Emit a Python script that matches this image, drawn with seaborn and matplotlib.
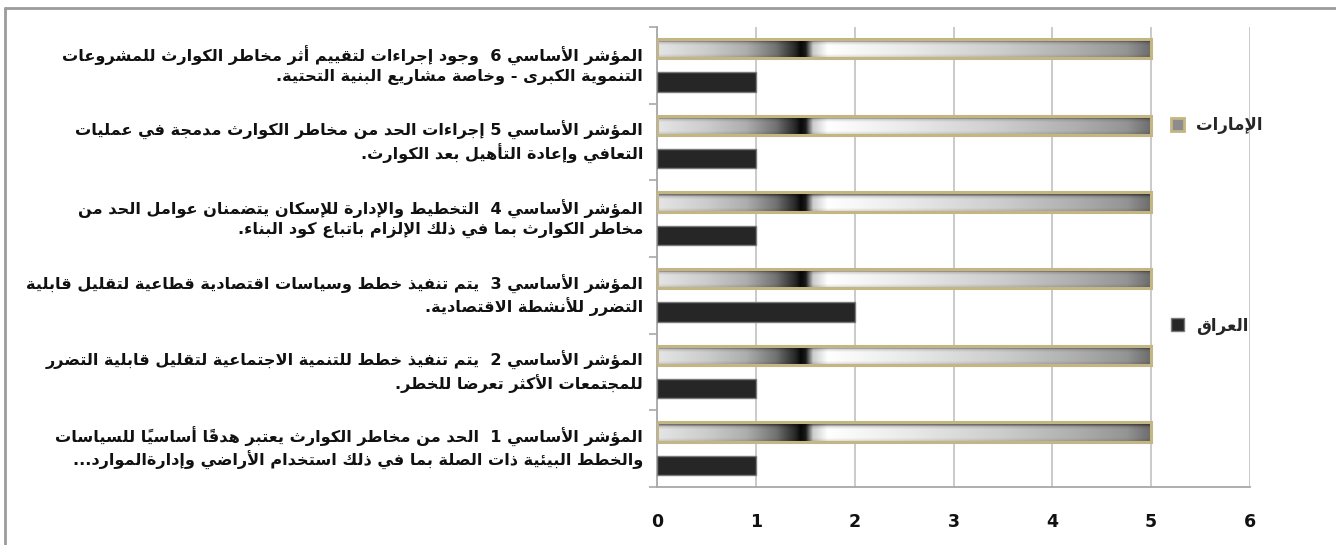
import numpy as np
import pandas as pd
import matplotlib
matplotlib.use("Agg")
import matplotlib.pyplot as plt
from matplotlib.lines import Line2D
from matplotlib.patches import Patch
import seaborn as sns

# ---------------------------------------------------------------- data
# indicator captions, top of the chart to bottom (two lines each)
caption_line1 = [
    "المؤشر الأساسي 6  وجود إجراءات لتقييم أثر مخاطر الكوارث للمشروعات",
    "المؤشر الأساسي 5 إجراءات الحد من مخاطر الكوارث مدمجة في عمليات",
    "المؤشر الأساسي 4  التخطيط والإدارة للإسكان يتضمنان عوامل الحد من",
    "المؤشر الأساسي 3  يتم تنفيذ خطط وسياسات اقتصادية قطاعية لتقليل قابلية",
    "المؤشر الأساسي 2  يتم تنفيذ خطط للتنمية الاجتماعية لتقليل قابلية التضرر",
    "المؤشر الأساسي 1  الحد من مخاطر الكوارث يعتبر هدفاً أساسياً للسياسات",
]
caption_line2 = [
    "التنموية الكبرى - وخاصة مشاريع البنية التحتية.",
    "التعافي وإعادة التأهيل بعد الكوارث.",
    "مخاطر الكوارث بما في ذلك الإلزام باتباع كود البناء.",
    "التضرر للأنشطة الاقتصادية.",
    "للمجتمعات الأكثر تعرضا للخطر.",
    "والخطط البيئية ذات الصلة بما في ذلك استخدام الأراضي وإدارةالموارد...",
]
countries = ["الإمارات", "العراق"]
uae_scores = [5, 5, 5, 5, 5, 5]
iraq_scores = [1, 1, 1, 2, 1, 1]
x_ticks = [0, 1, 2, 3, 4, 5, 6]

# ------------------------------------------------ Arabic glyph shaping
# matplotlib lays text out left to right without contextual shaping, so the
# letters are mapped to their presentation forms and placed in visual order.
FORMS = {
    "\u0621": ("\ufe80", None, None, None),
    "\u0622": ("\ufe81", "\ufe82", None, None),
    "\u0623": ("\ufe83", "\ufe84", None, None),
    "\u0624": ("\ufe85", "\ufe86", None, None),
    "\u0625": ("\ufe87", "\ufe88", None, None),
    "\u0626": ("\ufe89", "\ufe8a", "\ufe8b", "\ufe8c"),
    "\u0627": ("\ufe8d", "\ufe8e", None, None),
    "\u0628": ("\ufe8f", "\ufe90", "\ufe91", "\ufe92"),
    "\u0629": ("\ufe93", "\ufe94", None, None),
    "\u062a": ("\ufe95", "\ufe96", "\ufe97", "\ufe98"),
    "\u062b": ("\ufe99", "\ufe9a", "\ufe9b", "\ufe9c"),
    "\u062c": ("\ufe9d", "\ufe9e", "\ufe9f", "\ufea0"),
    "\u062d": ("\ufea1", "\ufea2", "\ufea3", "\ufea4"),
    "\u062e": ("\ufea5", "\ufea6", "\ufea7", "\ufea8"),
    "\u062f": ("\ufea9", "\ufeaa", None, None),
    "\u0630": ("\ufeab", "\ufeac", None, None),
    "\u0631": ("\ufead", "\ufeae", None, None),
    "\u0632": ("\ufeaf", "\ufeb0", None, None),
    "\u0633": ("\ufeb1", "\ufeb2", "\ufeb3", "\ufeb4"),
    "\u0634": ("\ufeb5", "\ufeb6", "\ufeb7", "\ufeb8"),
    "\u0635": ("\ufeb9", "\ufeba", "\ufebb", "\ufebc"),
    "\u0636": ("\ufebd", "\ufebe", "\ufebf", "\ufec0"),
    "\u0637": ("\ufec1", "\ufec2", "\ufec3", "\ufec4"),
    "\u0638": ("\ufec5", "\ufec6", "\ufec7", "\ufec8"),
    "\u0639": ("\ufec9", "\ufeca", "\ufecb", "\ufecc"),
    "\u063a": ("\ufecd", "\ufece", "\ufecf", "\ufed0"),
    "\u0641": ("\ufed1", "\ufed2", "\ufed3", "\ufed4"),
    "\u0642": ("\ufed5", "\ufed6", "\ufed7", "\ufed8"),
    "\u0643": ("\ufed9", "\ufeda", "\ufedb", "\ufedc"),
    "\u0644": ("\ufedd", "\ufede", "\ufedf", "\ufee0"),
    "\u0645": ("\ufee1", "\ufee2", "\ufee3", "\ufee4"),
    "\u0646": ("\ufee5", "\ufee6", "\ufee7", "\ufee8"),
    "\u0647": ("\ufee9", "\ufeea", "\ufeeb", "\ufeec"),
    "\u0648": ("\ufeed", "\ufeee", None, None),
    "\u0649": ("\ufeef", "\ufef0", None, None),
    "\u064a": ("\ufef1", "\ufef2", "\ufef3", "\ufef4"),
}
LAM_ALEF = {
    "\u0622": ("\ufef5", "\ufef6"),
    "\u0623": ("\ufef7", "\ufef8"),
    "\u0625": ("\ufef9", "\ufefa"),
    "\u0627": ("\ufefb", "\ufefc"),
}


def is_mark(c):
    return "\u064b" <= c <= "\u0652" or c == "\u0670"


def joins_next(c):
    return c == "\u0640" or (c in FORMS and FORMS[c][2] is not None)


def joins_prev(c):
    return c == "\u0640" or (c in FORMS and FORMS[c][1] is not None)


def arabic(text):
    chars = list(text)
    n = len(chars)

    def skip(j, step):
        while 0 <= j < n and is_mark(chars[j]):
            j += step
        return j

    clusters = []
    i = 0
    while i < n:
        c = chars[i]
        if is_mark(c) and clusters:
            clusters[-1] += c
            i += 1
            continue
        if c.isdigit():
            if clusters and clusters[-1][-1].isdigit():
                clusters[-1] += c
            else:
                clusters.append(c)
            i += 1
            continue
        if c in FORMS:
            p = skip(i - 1, -1)
            prev = chars[p] if p >= 0 else None
            link_prev = prev is not None and joins_next(prev) and joins_prev(c)
            q = skip(i + 1, 1)
            nxt = chars[q] if q < n else None
            if c == "\u0644" and nxt in LAM_ALEF:
                clusters.append(LAM_ALEF[nxt][1 if link_prev else 0])
                i = q + 1
                continue
            link_next = joins_next(c) and nxt is not None and joins_prev(nxt)
            idx = 3 if (link_prev and link_next) else 1 if link_prev else 2 if link_next else 0
            clusters.append(FORMS[c][idx])
        else:
            clusters.append(c)
        i += 1
    return "".join(reversed(clusters))


# ---------------------------------------------------------------- frame
sns.set_theme(style="white")
plt.rcParams["font.family"] = ["DejaVu Sans"]
plt.rcParams["font.weight"] = "bold"

categories = [f"k{i}" for i in range(len(caption_line1))]
tick_text = [arabic(a) + "\n" + arabic(b) for a, b in zip(caption_line1, caption_line2)]
hue_names = [arabic(c) for c in countries]

df = pd.DataFrame({
    "indicator": categories * 2,
    "country": [hue_names[0]] * len(categories) + [hue_names[1]] * len(categories),
    "score": uae_scores + iraq_scores,
})

fig = plt.figure(figsize=(13.36, 5.45), dpi=100)
ax = fig.add_axes([657 / 1336, 1 - 487 / 545, (1250 - 657) / 1336, (487 - 27) / 545])

sns.barplot(
    data=df, x="score", y="indicator", hue="country",
    order=categories, hue_order=hue_names, orient="h",
    palette=["#9a9a9a", "#262626"], width=0.87, gap=0.42,
    legend=False, ax=ax, saturation=1,
)

ax.set_xlim(0, 6)
ax.set_ylim(5.5, -0.5)

# metallic gradient for the first series
stops = np.array([
    (0.00, 0.90), (0.10, 0.80), (0.18, 0.68), (0.24, 0.45), (0.28, 0.15),
    (0.29, 0.03), (0.30, 0.10), (0.315, 0.80), (0.345, 1.00), (0.50, 0.92),
    (0.70, 0.80), (0.85, 0.68), (0.95, 0.58), (1.00, 0.42),
])
xs = np.linspace(0, 1, 600)
row = np.interp(xs, stops[:, 0], stops[:, 1])
vstops = np.array([(0.0, 0.45), (0.14, 0.5), (0.2, 0.85), (0.35, 1.0), (0.8, 1.0), (1.0, 0.85)])
ys = np.linspace(0, 1, 40)
col = np.interp(ys, vstops[:, 0], vstops[:, 1])
shade = np.clip(col[:, None] * row[None, :], 0, 1)
grad = np.dstack([shade, shade, shade])

for bar in ax.containers[0]:
    x0, y0, w, h = bar.get_x(), bar.get_y(), bar.get_width(), bar.get_height()
    im = ax.imshow(grad, extent=(x0, x0 + w, y0 + h, y0), aspect="auto",
                   interpolation="bilinear", zorder=2.5)
    im.set_clip_path(bar)
    bar.set_facecolor("none")
    bar.set_edgecolor("#c3b682")
    bar.set_linewidth(2.2)
    bar.set_zorder(3)

for bar in ax.containers[1]:
    bar.set_edgecolor("#7a7a7a")
    bar.set_linewidth(1.0)
    bar.set_zorder(3)

ax.set_xlim(0, 6)
ax.set_ylim(5.5, -0.5)
ax.set_aspect("auto")

# axes, grid and ticks
ax.set_xticks(x_ticks)
ax.set_xticklabels([str(t) for t in x_ticks], fontsize=12.5, fontweight="bold")
ax.grid(axis="x", color="#c6c6c6", linewidth=1.3)
ax.grid(axis="y", visible=False)
ax.set_axisbelow(True)
for side in ("top", "right"):
    ax.spines[side].set_visible(False)
for side in ("left", "bottom"):
    ax.spines[side].set_color("#a8a8a8")
    ax.spines[side].set_linewidth(1.3)
ax.tick_params(axis="x", which="major", length=7, width=1.2, color="#a8a8a8",
               direction="out", pad=12, labelcolor="#111111")

ax.set_yticks(range(len(categories)))
ax.set_yticklabels(tick_text, fontsize=11.6, fontweight="bold",
                   multialignment="right", linespacing=1.25, color="#111111")
for lbl in ax.get_yticklabels():
    lbl.set_verticalalignment("center")
ax.set_yticks(np.arange(-0.5, len(categories), 1), minor=True)
ax.tick_params(axis="y", which="major", length=0, pad=10)
ax.tick_params(axis="y", which="minor", length=6, width=1.2, color="#a8a8a8",
               direction="out", left=True)
ax.set_xlabel("")
ax.set_ylabel("")

# legend
handles = [
    Patch(facecolor="#8c8c8c", edgecolor="#c3b682", linewidth=2),
    Patch(facecolor="#262626", edgecolor="#7a7a7a", linewidth=1),
]
fig.legend(handles, hue_names, loc="upper left",
           bbox_to_anchor=(1171 / 1336, 1 - 116 / 545), frameon=False,
           prop={"size": 12, "weight": "bold"}, labelspacing=10.95,
           handlelength=0.8, handleheight=0.8, handletextpad=0.7,
           borderpad=0, borderaxespad=0)

# outer frame
fig.add_artist(Line2D([5 / 1336, 1], [1 - 8 / 545] * 2, transform=fig.transFigure,
                      color="#9c9c9c", linewidth=2))
fig.add_artist(Line2D([5 / 1336] * 2, [0, 1 - 8 / 545], transform=fig.transFigure,
                      color="#9c9c9c", linewidth=2))

fig.savefig("out.png", dpi=100)
